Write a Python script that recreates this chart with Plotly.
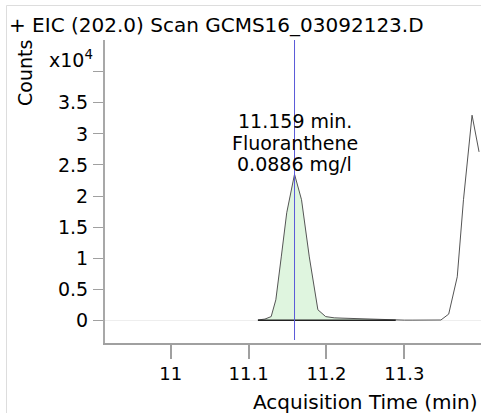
import plotly.graph_objects as go

# ---------------- data ----------------
time_min = [11.112, 11.121, 11.129, 11.135, 11.142, 11.149, 11.159, 11.168,
            11.178, 11.189, 11.199, 11.210, 11.220, 11.230, 11.240, 11.250,
            11.260, 11.270, 11.280, 11.289, 11.300, 11.310, 11.320, 11.330,
            11.340, 11.347, 11.357, 11.368, 11.376, 11.387, 11.396]
counts_e4 = [0.005, 0.02, 0.06, 0.33, 1.02, 1.73, 2.35, 1.94,
             1.02, 0.17, 0.06, 0.04, 0.035, 0.03, 0.025, 0.02,
             0.018, 0.015, 0.01, 0.005, 0.003, 0.003, 0.003, 0.003,
             0.003, 0.005, 0.10, 0.70, 1.94, 3.30, 2.71]

peak_start = 11.112
peak_end = 11.289
baseline_time = [11.112, 11.289]
baseline_counts = [0.0, 0.0]

peak_rt = 11.159
peak_label = ["11.159 min.", "Fluoranthene", "0.0886 mg/l"]

x_tickvals = [11.0, 11.1, 11.2, 11.3, 11.4]
x_ticktext = ["11", "11.1", "11.2", "11.3", "11.4"]
y_tickvals = [0, 0.5, 1, 1.5, 2, 2.5, 3, 3.5, 4]
y_ticktext = ["0", "0.5", "1", "1.5", "2", "2.5", "3", "3.5", ""]

title_text = "+ EIC (202.0) Scan GCMS16_03092123.D"
x_title = "Acquisition Time (min)"
y_title = "Counts"
y_scale = "x10<sup>4</sup>"

# ---------------- layout geometry ----------------
W, H = 481, 413
ML, MR, MT, MB = 105, 0, 40, 70
PW, PH = W - ML - MR, H - MT - MB
FONT = "DejaVu Sans"


def xp(px):
    return (px - ML) / PW


def yp(py):
    return (H - MB - py) / PH


peak_t = [t for t in time_min if peak_start <= t <= peak_end]
peak_c = [c for t, c in zip(time_min, counts_e4) if peak_start <= t <= peak_end]

fig = go.Figure()
fig.add_trace(go.Scatter(x=peak_t, y=peak_c, mode="lines", fill="tozeroy",
                         fillcolor="#dff5df", line=dict(width=0, color="#dff5df"),
                         hoverinfo="skip", showlegend=False))
fig.add_trace(go.Scatter(x=time_min, y=counts_e4, mode="lines",
                         line=dict(color="#555555", width=1),
                         showlegend=False))
fig.add_trace(go.Scatter(x=baseline_time, y=baseline_counts, mode="lines",
                         line=dict(color="#222222", width=1.5),
                         showlegend=False))

fig.add_shape(type="line", xref="x", yref="paper", x0=peak_rt, x1=peak_rt,
              y0=yp(340), y1=1, line=dict(color="#5a5ad8", width=1), layer="above")

# light border around the chart
fig.add_shape(type="rect", xref="paper", yref="paper", x0=xp(6.5), x1=xp(520),
              y0=yp(440), y1=yp(5.5), line=dict(color="#dddddd", width=1),
              fillcolor="rgba(0,0,0,0)", layer="below")

ann = []
ann.append(dict(text=title_text, xref="paper", yref="paper", x=xp(7), y=yp(25),
                xanchor="left", yanchor="middle", showarrow=False,
                font=dict(family=FONT, size=20, color="black")))
ann.append(dict(text=y_title, xref="paper", yref="paper", x=xp(25), y=yp(73),
                xanchor="center", yanchor="middle", textangle=-90, showarrow=False,
                font=dict(family=FONT, size=19, color="black")))
ann.append(dict(text=y_scale, xref="paper", yref="paper", x=xp(95), y=yp(59),
                xanchor="right", yanchor="middle", showarrow=False,
                font=dict(family=FONT, size=19, color="black")))
for i, (line_txt, py) in enumerate(zip(peak_label, [121, 142.5, 164])):
    ann.append(dict(text=line_txt, xref="x", yref="paper", x=peak_rt, y=yp(py),
                    xanchor="center", yanchor="middle", showarrow=False,
                    font=dict(family=FONT, size=19, color="black")))
ann.append(dict(text=x_title, xref="paper", yref="paper", x=xp(480), y=yp(402),
                xanchor="right", yanchor="middle", showarrow=False,
                font=dict(family=FONT, size=20, color="black")))

fig.update_layout(
    width=W, height=H, autosize=False,
    margin=dict(l=ML, r=MR, t=MT, b=MB, pad=0),
    paper_bgcolor="white", plot_bgcolor="white",
    annotations=ann,
    xaxis=dict(range=[10.9156, 11.3985], tickvals=x_tickvals, ticktext=x_ticktext,
               showgrid=False, zeroline=False, showline=True, linecolor="#a0a0a0",
               linewidth=1.5, ticks="outside", ticklen=14, tickwidth=1.5,
               tickcolor="#a0a0a0", ticklabelstandoff=0,
               tickfont=dict(family=FONT, size=18, color="black")),
    yaxis=dict(range=[-0.365, 4.51], tickvals=y_tickvals, ticktext=y_ticktext,
               showgrid=False, zeroline=True, zerolinecolor="#eeeeee", zerolinewidth=1,
               showline=True, linecolor="#a8a8a8", linewidth=2, ticks="outside",
               ticklen=10, tickwidth=1, tickcolor="#a0a0a0", ticklabelstandoff=1,
               tickfont=dict(family=FONT, size=19, color="black")),
)

fig.write_html("out.html", config={"displayModeBar": False},
               post_script="document.body.style.margin='0px';"
                           "document.body.style.overflow='hidden';")
